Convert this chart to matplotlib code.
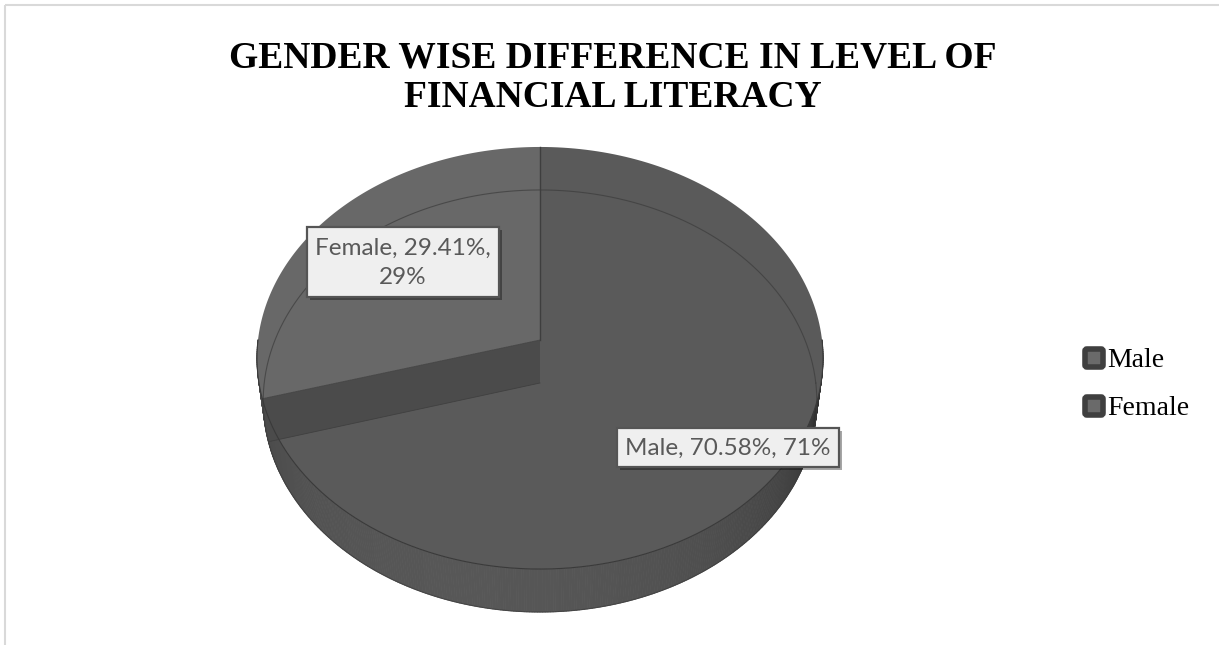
import numpy as np
import matplotlib
matplotlib.use("Agg")
import matplotlib.pyplot as plt
from matplotlib.patches import Polygon, Rectangle, FancyBboxPatch
from matplotlib.collections import PolyCollection
import matplotlib.patheffects as pe

# ---- data ----
categories = ["Male", "Female"]
shares = [70.58, 29.41]          # percent of respondents
rounded = [71, 29]               # rounded percentage shown in labels
title_lines = ["GENDER WISE DIFFERENCE IN LEVEL OF", "FINANCIAL LITERACY"]

top_colors = ["#5a5a5a", "#686868"]

W, H = 1219, 645
fig = plt.figure(figsize=(W / 100, H / 100), dpi=100)
ax = fig.add_axes([0, 0, 1, 1])
ax.set_xlim(0, W)
ax.set_ylim(H, 0)
ax.axis("off")

# thin chart-area frame (left and top edges)
ax.plot([5, 5], [5, H], color="#d9d9d9", lw=1.5, solid_capstyle="butt")
ax.plot([5, W], [5, 5], color="#d9d9d9", lw=1.5, solid_capstyle="butt")

# ---- perspective disc geometry ----
cx, cy = 540, 340       # centre of the top face
R = 282                 # horizontal radius
A = 209.5               # vertical scale
K = 0.0853              # perspective strength
T = 43                  # disc thickness
SHRINK = 0.978          # bottom face appears slightly smaller


def proj(theta_deg, z=0.0, r=1.0):
    t = np.radians(theta_deg)
    u, v = r * np.cos(t), r * np.sin(t)
    w = 1 + K * v
    rx = R * (SHRINK if z else 1.0)
    return cx + rx * u / w, cy - A * v / w + T * z


def rim(t0, t1, z=0.0, n=200):
    th = np.linspace(t0, t1, n)
    x, y = proj(th, z)
    return np.column_stack([x, y])


# slice angles: first slice starts at 12 o'clock, running clockwise
fr = np.array(shares) / np.sum(shares)
starts, ends = [], []
a0 = 90.0
for f in fr:
    starts.append(a0)
    a0 -= f * 360
    ends.append(a0)
boundary = ends[0] % 360      # male/female border on the left

# ---- side wall (front half) ----
th = np.linspace(180, 360, 361)
polys, cols = [], []
for t1, t2 in zip(th[:-1], th[1:]):
    p1 = proj(t1); p2 = proj(t2)
    q2 = proj(t2, 1); q1 = proj(t1, 1)
    polys.append([p1, p2, q2, q1])
    tm = 0.5 * (t1 + t2)
    b = 0.19 + 0.15 * max(0.0, np.cos(np.radians(tm - 255))) ** 0.6
    cols.append((b, b, b))
ax.add_collection(PolyCollection(polys, facecolors=cols, edgecolors=cols, lw=0.6))

# ---- top faces ----
for i, cat in enumerate(categories):
    pts = rim(starts[i], ends[i])
    poly = np.vstack([[cx, cy], pts])
    ax.add_patch(Polygon(poly, closed=True, fc=top_colors[i], ec="none"))

# radial wall along the left border
pb_top = proj(boundary)
pb_bot = proj(boundary, 1)
wall = [[cx, cy], pb_top, pb_bot, [cx, cy + T]]
ax.add_patch(Polygon(wall, closed=True, fc="#4b4b4b", ec="none"))
ax.plot([cx, pb_top[0]], [cy, pb_top[1]], color="#444444", lw=0.6)
ax.plot([cx, pb_bot[0]], [cy + T, pb_bot[1]], color="#404040", lw=0.6)

# faint outline of the lower face
bl = rim(0, 360, 1, 400)
ax.plot(bl[:, 0], bl[:, 1], color="#3c3c3c", lw=0.8, alpha=0.7)
# front edge of the top face
fl = rim(180, 360, 0, 300)
ax.plot(fl[:, 0], fl[:, 1], color="#3a3a3a", lw=0.8)
# slice border at 12 o'clock
ptop = proj(90)
ax.plot([cx, ptop[0]], [cy, ptop[1]], color="#3e3e3e", lw=1.0)

# ---- data labels ----
label_boxes = {"Female": (307, 227, 192, 70), "Male": (617, 428, 222, 39)}
label_font = "Lato"
for cat, s, rv in zip(categories, shares, rounded):
    x0, y0, bw, bh = label_boxes[cat]
    box = Rectangle((x0, y0), bw, bh, fc="#efefef", ec="#555555", lw=1.6,
                    zorder=5)
    box.set_path_effects([pe.SimplePatchShadow(offset=(2.5, -2.5),
                                               shadow_rgbFace="black",
                                               alpha=0.35), pe.Normal()])
    ax.add_patch(box)
    if cat == "Female":
        txt = f"{cat}, {s:.2f}%,\n{rv}%"
    else:
        txt = f"{cat}, {s:.2f}%, {rv}%"
    ax.text(x0 + bw / 2, y0 + bh / 2 + 1, txt, ha="center", va="center",
            fontsize=17.5, family=label_font, color="#595959",
            linespacing=1.5, zorder=6)

# ---- title ----
ax.text(613, 68, title_lines[0], ha="center", va="baseline",
        fontsize=27, fontweight="bold", family="Liberation Serif", color="black")
ax.text(613, 107, title_lines[1], ha="center", va="baseline",
        fontsize=27, fontweight="bold", family="Liberation Serif", color="black")

# ---- legend ----
leg_y = [358, 406]
for cat, yy in zip(categories, leg_y):
    ax.add_patch(FancyBboxPatch((1085, yy - 9), 18, 18,
                                boxstyle="round,pad=0,rounding_size=2",
                                fc="#6a6a6a", ec="#3f3f3f", lw=4))
    ax.text(1107, yy + 9, cat, ha="left", va="baseline", fontsize=20,
            family="Liberation Serif", color="black")

fig.savefig("out.png", dpi=100)
